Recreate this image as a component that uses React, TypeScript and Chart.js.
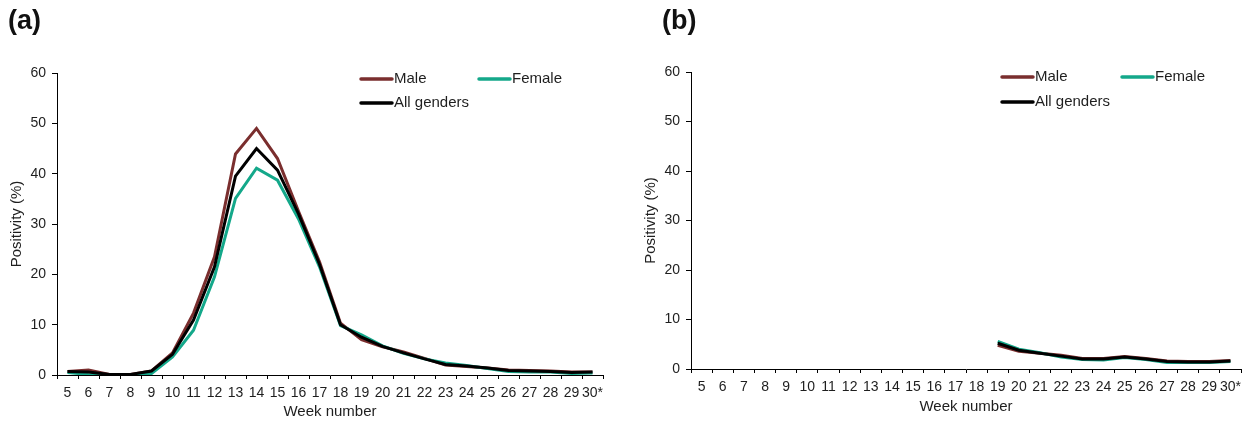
import React, { useEffect, useRef } from 'react';
import { Chart, registerables } from 'chart.js';

Chart.register(...registerables);

const weeks = ['5', '6', '7', '8', '9', '10', '11', '12', '13', '14', '15', '16', '17', '18', '19', '20', '21', '22', '23', '24', '25', '26', '27', '28', '29', '30*'];

// Panel (a)
const maleA = [0.7, 1.0, 0.1, 0.1, 0.8, 4.4, 12.3, 23.5, 43.9, 49.0, 43.0, 32.5, 22.5, 10.3, 7.0, 5.6, 4.6, 3.3, 2.0, 1.7, 1.4, 1.0, 0.9, 0.8, 0.6, 0.6];
const femaleA = [0.5, 0.1, 0.0, 0.0, 0.3, 3.6, 8.9, 19.5, 35.1, 41.1, 38.7, 31.0, 21.5, 9.8, 8.0, 5.8, 4.3, 3.2, 2.4, 1.9, 1.3, 0.7, 0.6, 0.6, 0.3, 0.4];
const allA = [0.7, 0.6, 0.1, 0.1, 0.8, 4.1, 10.9, 21.5, 39.5, 45.0, 40.7, 32.0, 22.0, 10.0, 7.5, 5.7, 4.4, 3.2, 2.1, 1.8, 1.4, 0.9, 0.8, 0.7, 0.5, 0.6];

// Panel (b) — no data before week 19
const maleB = [null, null, null, null, null, null, null, null, null, null, null, null, null, null, 4.8, 3.6, 3.2, 2.8, 2.1, 2.1, 2.5, 2.1, 1.6, 1.5, 1.5, 1.7];
const femaleB = [null, null, null, null, null, null, null, null, null, null, null, null, null, null, 5.6, 4.0, 3.3, 2.4, 1.9, 1.8, 2.3, 1.9, 1.3, 1.3, 1.3, 1.5];
const allB = [null, null, null, null, null, null, null, null, null, null, null, null, null, null, 5.2, 3.8, 3.2, 2.6, 2.0, 2.0, 2.4, 2.0, 1.5, 1.4, 1.4, 1.6];

const seriesLabels = ['Male', 'Female', 'All genders'];
const yMin = 0;
const yMax = 60;
const yStep = 10;
const xTitle = 'Week number';
const yTitle = 'Positivity (%)';

const MALE = '#7a2e2e';
const FEMALE = '#14a88a';
const ALL = '#000000';
const TEXT = '#1e1e1e';
const FONT = '"Liberation Sans", Arial, Helvetica, sans-serif';

const legendPlugin = {
  id: 'manualLegend',
  afterDraw(chart: any, _args: any, opts: any) {
    const ctx = chart.ctx;
    ctx.save();
    for (const it of opts.items || []) {
      ctx.strokeStyle = it.color;
      ctx.lineWidth = 3.5;
      ctx.lineCap = 'round';
      ctx.beginPath();
      ctx.moveTo(it.x, it.y);
      ctx.lineTo(it.x + 31, it.y);
      ctx.stroke();
      ctx.fillStyle = TEXT;
      ctx.font = '15px ' + FONT;
      ctx.textBaseline = 'middle';
      ctx.textAlign = 'left';
      ctx.fillText(it.label, it.x + 33, it.y);
    }
    ctx.restore();
  },
};

type PanelCfg = {
  male: (number | null)[];
  female: (number | null)[];
  all: (number | null)[];
  yWidth: number;
  xHeight: number;
  padding: { left: number; top: number; right: number; bottom: number };
  yTitlePad: number;
  legend: { x: number; y: number; label: string; color: string }[];
};

function makeChart(canvas: HTMLCanvasElement, p: PanelCfg) {
  const ds = (label: string, data: (number | null)[], color: string) => ({
    label,
    data,
    borderColor: color,
    backgroundColor: color,
    borderWidth: 3,
    pointRadius: 0,
    pointHoverRadius: 0,
    tension: 0,
    fill: false,
    spanGaps: false,
  });
  return new Chart(canvas, {
    type: 'line',
    data: {
      labels: weeks,
      datasets: [
        ds(seriesLabels[2], p.all, ALL),
        ds(seriesLabels[1], p.female, FEMALE),
        ds(seriesLabels[0], p.male, MALE),
      ],
    },
    plugins: [legendPlugin],
    options: {
      responsive: false,
      animation: false,
      devicePixelRatio: 1,
      layout: { padding: p.padding },
      plugins: {
        legend: { display: false },
        tooltip: { enabled: false },
        manualLegend: { items: p.legend },
      } as any,
      scales: {
        x: {
          type: 'category',
          offset: true,
          grid: {
            offset: true,
            drawOnChartArea: false,
            drawTicks: true,
            tickLength: 4,
            color: '#000',
            lineWidth: 1,
          },
          border: { display: true, color: '#000', width: 1 },
          ticks: {
            autoSkip: false,
            maxRotation: 0,
            minRotation: 0,
            padding: 6,
            color: TEXT,
            font: { size: 14, family: FONT },
          },
          title: {
            display: true,
            text: xTitle,
            color: TEXT,
            font: { size: 15, family: FONT },
            padding: { top: 0, bottom: 0 },
          },
          afterFit: (s: any) => {
            s.height = p.xHeight;
            s.paddingLeft = 0;
            s.paddingRight = 0;
          },
        },
        y: {
          min: yMin,
          max: yMax,
          grid: {
            drawOnChartArea: false,
            drawTicks: true,
            tickLength: 5,
            color: '#000',
            lineWidth: 1,
          },
          border: { display: true, color: '#000', width: 1 },
          ticks: {
            stepSize: yStep,
            padding: 6,
            color: TEXT,
            font: { size: 14, family: FONT },
          },
          title: {
            display: true,
            text: yTitle,
            color: TEXT,
            font: { size: 15, family: FONT },
            padding: { top: p.yTitlePad, bottom: 0 },
          },
          afterFit: (s: any) => {
            s.width = p.yWidth;
            s.paddingTop = 0;
            s.paddingBottom = 0;
          },
        },
      },
    } as any,
  });
}

function Panel(props: { left: number; width: number; tag: string; tagLeft: number; cfg: PanelCfg }) {
  const ref = useRef<HTMLCanvasElement>(null);
  useEffect(() => {
    if (!ref.current) return;
    const c = makeChart(ref.current, props.cfg);
    return () => c.destroy();
  }, []);
  return (
    <div style={{ position: 'absolute', left: props.left, top: 0, width: props.width, height: 421 }}>
      <canvas ref={ref} width={props.width} height={421} style={{ display: 'block', width: props.width, height: 421 }} />
      <div
        style={{
          position: 'absolute',
          left: props.tagLeft,
          top: 7,
          fontFamily: FONT,
          fontWeight: 'bold',
          fontSize: 27,
          lineHeight: 1,
          color: '#111',
        }}
      >
        {props.tag}
      </div>
    </div>
  );
}

export default function App() {
  const cfgA: PanelCfg = {
    male: maleA,
    female: femaleA,
    all: allA,
    yWidth: 57,
    xHeight: 46,
    padding: { left: 0, top: 73, right: 17, bottom: 0 },
    yTitlePad: 8,
    legend: [
      { x: 361, y: 79, label: seriesLabels[0], color: MALE },
      { x: 479, y: 79, label: seriesLabels[1], color: FEMALE },
      { x: 361, y: 103, label: seriesLabels[2], color: ALL },
    ],
  };
  const cfgB: PanelCfg = {
    male: maleB,
    female: femaleB,
    all: allB,
    yWidth: 71,
    xHeight: 47,
    padding: { left: 0, top: 72, right: 2, bottom: 5 },
    yTitlePad: 22,
    legend: [
      { x: 382, y: 77, label: seriesLabels[0], color: MALE },
      { x: 502, y: 77, label: seriesLabels[1], color: FEMALE },
      { x: 382, y: 102, label: seriesLabels[2], color: ALL },
    ],
  };
  return (
    <div style={{ position: 'fixed', left: 0, top: 0, width: 1243, height: 421, background: '#fff' }}>
      <Panel left={0} width={620} tag="(a)" tagLeft={8} cfg={cfgA} />
      <Panel left={620} width={623} tag="(b)" tagLeft={42} cfg={cfgB} />
    </div>
  );
}
